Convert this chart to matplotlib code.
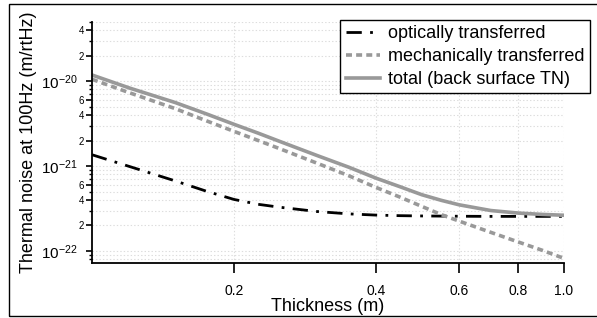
import matplotlib
matplotlib.use("Agg")
import matplotlib.pyplot as plt
from matplotlib.patches import Rectangle
import numpy as np

plt.rcParams['font.family'] = ['Liberation Sans', 'DejaVu Sans']
plt.rcParams['lines.scale_dashes'] = False
plt.rcParams['mathtext.fontset'] = 'custom'
plt.rcParams['mathtext.rm'] = 'Liberation Sans'
plt.rcParams['mathtext.it'] = 'Liberation Sans'

thickness = [0.1, 0.12, 0.15, 0.175, 0.2, 0.225, 0.25, 0.3, 0.35, 0.4, 0.45, 0.5, 0.55,
             0.6, 0.7, 0.8, 0.9, 1.0]
optical = [1.36e-21, 9.9e-22, 6.7e-22, 5.05e-22, 4.05e-22, 3.55e-22, 3.28e-22, 2.92e-22,
           2.74e-22, 2.65e-22, 2.61e-22, 2.59e-22, 2.58e-22, 2.57e-22, 2.56e-22, 2.56e-22,
           2.56e-22, 2.56e-22]
mechanical = [1.05e-20, 7.3e-21, 4.75e-21, 3.4e-21, 2.56e-21, 2.0e-21, 1.6e-21, 1.08e-21,
              7.7e-22, 5.6e-22, 4.3e-22, 3.35e-22, 2.68e-22, 2.25e-22, 1.66e-22, 1.28e-22,
              1.02e-22, 8.2e-23]
total = [1.18e-20, 8.3e-21, 5.6e-21, 4.1e-21, 3.1e-21, 2.44e-21, 1.95e-21, 1.33e-21,
         9.7e-22, 7.2e-22, 5.7e-22, 4.6e-22, 3.95e-22, 3.5e-22, 3.0e-22, 2.8e-22,
         2.7e-22, 2.64e-22]

labels = ["optically transferred", "mechanically transferred", "total (back surface TN)"]
xticks = [0.2, 0.4, 0.6, 0.8, 1.0]
xticklabels = ["0.2", "0.4", "0.6", "0.8", "1.0"]

W, H = 597, 318
fig = plt.figure(figsize=(W / 100, H / 100), dpi=100)
ax = fig.add_axes([92 / W, 1 - 262.7 / H, (564 - 92) / W, (262.7 - 21.7) / H])

gray = '#999999'
ax.plot(thickness, optical, color='black', lw=2.0, linestyle=(0, (11, 6, 2, 6)), label=labels[0])
ax.plot(thickness, mechanical, color=gray, lw=2.6, linestyle=(0, (4.3, 3.0)), label=labels[1])
ax.plot(thickness, total, color=gray, lw=2.6, label=labels[2])

ax.set_xscale('log')
ax.set_yscale('log')
ax.set_xlim(0.1, 1.0)
ax.set_ylim(7.3e-23, 5e-20)

ax.xaxis.set_major_locator(matplotlib.ticker.FixedLocator(xticks))
ax.xaxis.set_major_formatter(matplotlib.ticker.FixedFormatter(xticklabels))
ax.xaxis.set_minor_locator(matplotlib.ticker.NullLocator())

decades = [1e-22, 1e-21, 1e-20]
major_y, major_lab, minor_y = [], [], []
for d, e in zip(decades, [-22, -21, -20]):
    major_y.append(d)
    major_lab.append(r'$10^{%d}$' % e)
    for m in range(2, 10):
        v = m * d
        if m in (2, 4, 6):
            major_y.append(v)
            major_lab.append(str(m))
        else:
            minor_y.append(v)
for m in (8, 9):
    minor_y.append(m * 1e-23)
order = np.argsort(major_y)
major_y = [major_y[i] for i in order]
major_lab = [major_lab[i] for i in order]
ax.yaxis.set_major_locator(matplotlib.ticker.FixedLocator(major_y))
ax.yaxis.set_major_formatter(matplotlib.ticker.FixedFormatter(major_lab))
ax.yaxis.set_minor_locator(matplotlib.ticker.FixedLocator(sorted(minor_y)))
ax.yaxis.set_minor_formatter(matplotlib.ticker.NullFormatter())

ax.tick_params(axis='x', which='major', direction='out', length=7.5, width=1.2, labelsize=10, pad=8)
ax.tick_params(axis='y', which='major', direction='out', length=4, width=1.2, labelsize=7, pad=1.5)
ax.tick_params(axis='y', which='minor', direction='out', length=2.5, width=1.0)
for t, lab in zip(ax.yaxis.get_major_ticks(), major_lab):
    if lab.startswith('$'):
        t.label1.set_fontsize(11)
        t.set_pad(6)

for v in major_y + minor_y:
    ax.axhline(v, color='#dddddd', lw=0.8, linestyle=(0, (1, 1.5)), zorder=0)
for v in xticks:
    ax.axvline(v, color='#dddddd', lw=0.8, linestyle=(0, (1, 1.5)), zorder=0)

for s in ('top', 'right'):
    ax.spines[s].set_visible(False)
for s in ('left', 'bottom'):
    ax.spines[s].set_linewidth(1.3)

ax.set_xlabel('Thickness (m)', fontsize=13, labelpad=0)
ax.set_ylabel('Thermal noise at 100Hz (m/rtHz)', fontsize=13, labelpad=3)

leg = fig.legend(loc='upper right', bbox_to_anchor=(590 / W, 1 - 20 / H), borderaxespad=0,
                 fontsize=13, frameon=True, fancybox=False, framealpha=1, edgecolor='black',
                 handlelength=1.9, handletextpad=0.45, labelspacing=0.32, borderpad=0.3)
leg.get_frame().set_linewidth(1.0)

fig.patches.append(Rectangle((9 / W, 2 / H), 1.0, 1 - 6 / H, transform=fig.transFigure,
                             fill=False, edgecolor='black', lw=1.0))

fig.savefig('out.png', dpi=100)
